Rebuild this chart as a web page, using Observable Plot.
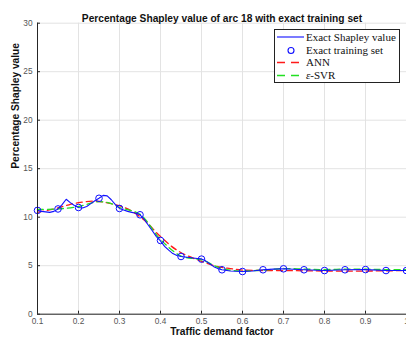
<!DOCTYPE html>
<html><head><meta charset="utf-8">
<script src="https://cdn.jsdelivr.net/npm/d3@7"></script>
<script src="https://cdn.jsdelivr.net/npm/@observablehq/plot@0.6"></script>
<style>
body{margin:0;background:#fff}
#wrap{position:relative;width:406px;height:340px;overflow:hidden}
#legend{position:absolute;left:274px;top:29px;width:124px;height:52px;border:0.8px solid #222;background:#fff;font-family:"Liberation Serif","DejaVu Serif",serif;font-size:11px;color:#111}
#legend .row{position:absolute;left:0;height:12px;line-height:12px;white-space:nowrap}
#legend svg{position:absolute;left:2px;top:0}
#legend span{position:absolute;left:31px;top:0}
</style>
</head><body><div id="wrap"></div>
<script>
// Exact Shapley value (fine grid)
const exactX = [0.1,0.11,0.12,0.13,0.14,0.15,0.16,0.17,0.18,0.19,0.2,0.21,0.22,0.23,0.24,0.25,0.26,0.27,0.28,0.29,0.3,0.31,0.32,0.33,0.34,0.35,0.36,0.37,0.38,0.39,0.4,0.41,0.42,0.43,0.44,0.45,0.46,0.47,0.48,0.49,0.5,0.51,0.52,0.53,0.54,0.55,0.57,0.6,0.625,0.65,0.675,0.7,0.75,0.8,0.85,0.9,0.95,1.0];
const exactY = [10.7,10.6,10.55,10.5,10.6,10.85,11.3,11.85,11.5,11.2,11.0,10.95,11.1,11.4,11.7,11.95,12.25,12.2,11.8,11.3,10.9,10.75,10.6,10.5,10.4,10.25,9.8,9.2,8.6,8.0,7.55,7.0,6.6,6.25,6.05,5.95,5.9,5.85,5.8,5.75,5.7,5.5,5.2,4.9,4.7,4.58,4.45,4.4,4.45,4.58,4.65,4.68,4.58,4.5,4.58,4.6,4.5,4.5];
// Exact training set
const trainX = [0.1,0.15,0.2,0.25,0.3,0.35,0.4,0.45,0.5,0.55,0.6,0.65,0.7,0.75,0.8,0.85,0.9,0.95,1.0];
const trainY = [10.7,10.85,11.0,11.95,10.9,10.25,7.6,5.95,5.68,4.58,4.4,4.58,4.68,4.58,4.5,4.58,4.6,4.5,4.5];
// ANN
const annX = [0.1,0.14,0.17,0.2,0.24,0.28,0.32,0.36,0.4,0.44,0.49,0.54,0.57,0.6,0.7,0.8,0.9,1.0];
const annY = [10.5,10.85,11.2,11.5,11.65,11.4,10.85,9.7,8.0,6.6,5.6,4.9,4.7,4.55,4.5,4.45,4.45,4.5];
// eps-SVR
const svrX = [0.1,0.15,0.2,0.25,0.28,0.3,0.35,0.4,0.45,0.5,0.55,0.6,0.65,0.7,0.75,0.8,0.85,0.9,0.95,1.0];
const svrY = [10.8,10.85,11.1,11.6,11.4,11.0,10.3,7.7,6.0,5.6,4.7,4.45,4.55,4.7,4.65,4.6,4.65,4.65,4.6,4.6];

const xTicks = [0.1,0.2,0.3,0.4,0.5,0.6,0.7,0.8,0.9,1.0];
const yTicks = [0,5,10,15,20,25,30];

const exact = exactX.map((x,i)=>({x,y:exactY[i]}));
const train = trainX.map((x,i)=>({x,y:trainY[i]}));
const ann = annX.map((x,i)=>({x,y:annY[i]}));
const svr = svrX.map((x,i)=>({x,y:svrY[i]}));

const chart = Plot.plot({
  width: 406, height: 340,
  marginLeft: 37, marginRight: 0, marginTop: 22.7, marginBottom: 26.3,
  style: {fontFamily: "'Liberation Sans', Arial, sans-serif", background: "#fff"},
  x: {domain: [0.1, 1.0]},
  y: {domain: [0, 30]},
  marks: [
    Plot.gridX(xTicks, {stroke: "#e3e3e3", strokeOpacity: 1}),
    Plot.gridY(yTicks, {stroke: "#e3e3e3", strokeOpacity: 1}),
    Plot.line(ann, {x: "x", y: "y", stroke: "#ff1a1a", strokeWidth: 1.3, strokeDasharray: "6,4", curve: "catmull-rom"}),
    Plot.line(svr, {x: "x", y: "y", stroke: "#22e022", strokeWidth: 1.3, strokeDasharray: "6,4", curve: "catmull-rom"}),
    Plot.line(exact, {x: "x", y: "y", stroke: "#1010ff", strokeWidth: 1.1}),
    Plot.dot(train, {x: "x", y: "y", r: 3.3, stroke: "#1010ff", strokeWidth: 1, fill: "none"}),
    Plot.ruleY([0], {stroke: "#262626", strokeWidth: 1}),
    Plot.ruleX([0.1], {stroke: "#262626", strokeWidth: 1}),
    Plot.axisX(xTicks, {tickSize: -3, tickPadding: 7, fontSize: 8.3, color: "#262626", fill: "#555", tickFormat: d => d === 1 ? "1" : d.toFixed(1), label: null}),
    Plot.axisY(yTicks, {tickSize: -3, tickPadding: 8, fontSize: 8.3, color: "#262626", fill: "#555", label: null}),
    Plot.text(["Percentage Shapley value of arc 18 with exact training set"], {frameAnchor: "top", dy: -8, fontSize: 10.2, fontWeight: "bold", fill: "#111"}),
    Plot.text(["Traffic demand factor"], {frameAnchor: "bottom", dy: 21, fontSize: 10.2, fontWeight: "bold", fill: "#111"}),
    Plot.text(["Percentage Shapley value"], {frameAnchor: "left", dx: -22, rotate: -90, fontSize: 10.2, fontWeight: "bold", fill: "#111"})
  ]
});
const wrap = document.getElementById("wrap");
wrap.appendChild(chart);

// Legend
const legendItems = [
  {label: "Exact Shapley value", kind: "line", color: "#1010ff"},
  {label: "Exact training set", kind: "dot", color: "#1010ff"},
  {label: "ANN", kind: "dash", color: "#ff1a1a"},
  {label: "<i>ε</i>-SVR", kind: "dash", color: "#22e022"}
];
const leg = document.createElement("div");
leg.id = "legend";
legendItems.forEach((it, i) => {
  const row = document.createElement("div");
  row.className = "row";
  row.style.top = (1 + i * 12.6) + "px";
  let sw = "";
  if (it.kind === "line") sw = `<line x1="0" x2="27" y1="6" y2="6" stroke="${it.color}" stroke-width="1.1"/>`;
  else if (it.kind === "dot") sw = `<circle cx="14" cy="6.5" r="3" fill="none" stroke="${it.color}" stroke-width="1.1"/>`;
  else sw = `<line x1="0" x2="27" y1="6.5" y2="6.5" stroke="${it.color}" stroke-width="1.3" stroke-dasharray="8,6"/>`;
  row.innerHTML = `<svg width="28" height="12">${sw}</svg><span>${it.label}</span>`;
  leg.appendChild(row);
});
wrap.appendChild(leg);
</script>
</body></html>
